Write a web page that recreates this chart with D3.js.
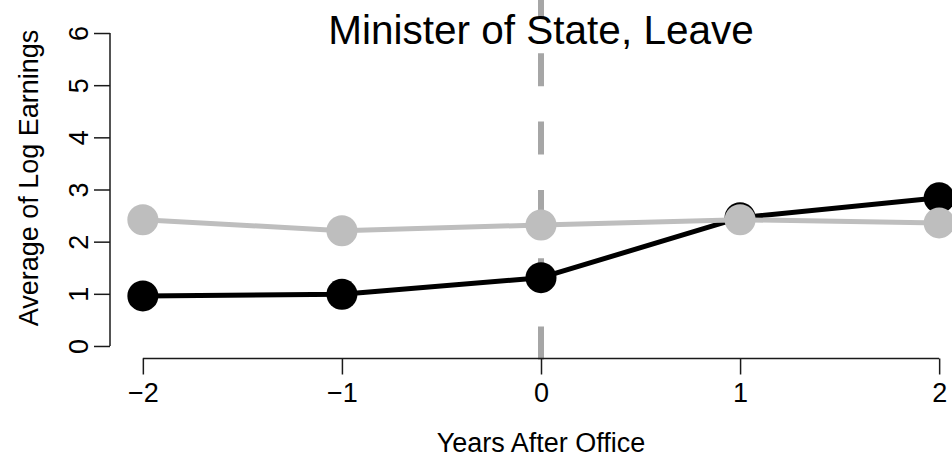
<!DOCTYPE html>
<html>
<head>
<meta charset="utf-8">
<script src="https://cdn.jsdelivr.net/npm/d3@7"></script>
<style>
  html, body { margin: 0; padding: 0; background: #fff; }
  svg { display: block; }
  text { font-family: "Liberation Sans", Arial, Helvetica, sans-serif; fill: #000; }
</style>
</head>
<body>
<svg id="chart" width="952" height="460"></svg>
<script>
// Years relative to taking office
const years = [-2, -1, 0, 1, 2];
// Average log earnings, two groups
const seriesDark = [0.96, 0.99, 1.31, 2.46, 2.84];
const seriesLight = [2.42, 2.21, 2.32, 2.42, 2.36];
// Axis tick values
const xTicks = [-2, -1, 0, 1, 2];
const yTicks = [0, 1, 2, 3, 4, 5, 6];

const titleText = "Minister of State, Leave";
const xLabel = "Years After Office";
const yLabel = "Average of Log Earnings";

const svg = d3.select("#chart");
svg.append("rect").attr("width", 952).attr("height", 460).attr("fill", "#fff");

// Plot region with the usual 4% padding around the data range
const x = d3.scaleLinear().domain([-2.16, 2.16]).range([111, 971]);
const y = d3.scaleLinear().domain([-0.24, 6.24]).range([358.5, 20.5]);

const axisColor = "#1a1a1a";
const fontSize = 27;

// Reference line at year 0
svg.append("line")
  .attr("x1", x(0)).attr("x2", x(0))
  .attr("y1", y(-0.24) + 1).attr("y2", -30)
  .attr("stroke", "#a6a6a6")
  .attr("stroke-width", 6)
  .attr("stroke-dasharray", "33,35.3");

// X axis
const xAxis = svg.append("g")
  .attr("transform", `translate(0,${y(-0.24)})`)
  .call(d3.axisBottom(x).tickValues(xTicks).tickSize(16).tickSizeOuter(0).tickFormat(d3.format("d")));
xAxis.select(".domain").remove();
xAxis.append("line")
  .attr("x1", x(xTicks[0])).attr("x2", x(xTicks[xTicks.length - 1]))
  .attr("stroke", axisColor).attr("stroke-width", 1.5);
xAxis.selectAll(".tick line").attr("stroke", axisColor).attr("stroke-width", 1.5);
xAxis.selectAll(".tick text")
  .attr("y", 43).attr("dy", null)
  .attr("font-size", fontSize)
  .attr("fill", "#000");

// Y axis
const yAxis = svg.append("g")
  .attr("transform", `translate(${x(-2.16) - 1},0)`)
  .call(d3.axisLeft(y).tickValues(yTicks).tickSize(16).tickSizeOuter(0).tickFormat(d3.format("d")));
yAxis.select(".domain").remove();
yAxis.append("line")
  .attr("y1", y(yTicks[0])).attr("y2", y(yTicks[yTicks.length - 1]))
  .attr("stroke", axisColor).attr("stroke-width", 1.5);
yAxis.selectAll(".tick line").attr("stroke", axisColor).attr("stroke-width", 1.5);
yAxis.selectAll(".tick text")
  .attr("x", null).attr("dy", null)
  .attr("transform", "translate(-22,0) rotate(-90)")
  .attr("text-anchor", "middle")
  .attr("font-size", fontSize)
  .attr("fill", "#000");

// Series lines and points
const line = d3.line().x((d, i) => x(years[i])).y(d => y(d));

function drawSeries(values, color) {
  svg.append("path")
    .datum(values)
    .attr("d", line)
    .attr("fill", "none")
    .attr("stroke", color)
    .attr("stroke-width", 5)
    .attr("stroke-linejoin", "round");
  svg.append("g").selectAll("circle")
    .data(values)
    .join("circle")
    .attr("cx", (d, i) => x(years[i]))
    .attr("cy", d => y(d))
    .attr("r", 15.5)
    .attr("fill", color);
}
drawSeries(seriesDark, "#000");
drawSeries(seriesLight, "#bebebe");

// Titles
svg.append("text")
  .attr("x", x(0)).attr("y", 44)
  .attr("text-anchor", "middle")
  .attr("font-size", 40.5)
  .text(titleText);

svg.append("text")
  .attr("x", x(0)).attr("y", 452)
  .attr("text-anchor", "middle")
  .attr("font-size", fontSize)
  .text(xLabel);

svg.append("text")
  .attr("transform", `translate(37.5,178) rotate(-90)`)
  .attr("text-anchor", "middle")
  .attr("font-size", fontSize)
  .text(yLabel);
</script>
</body>
</html>
